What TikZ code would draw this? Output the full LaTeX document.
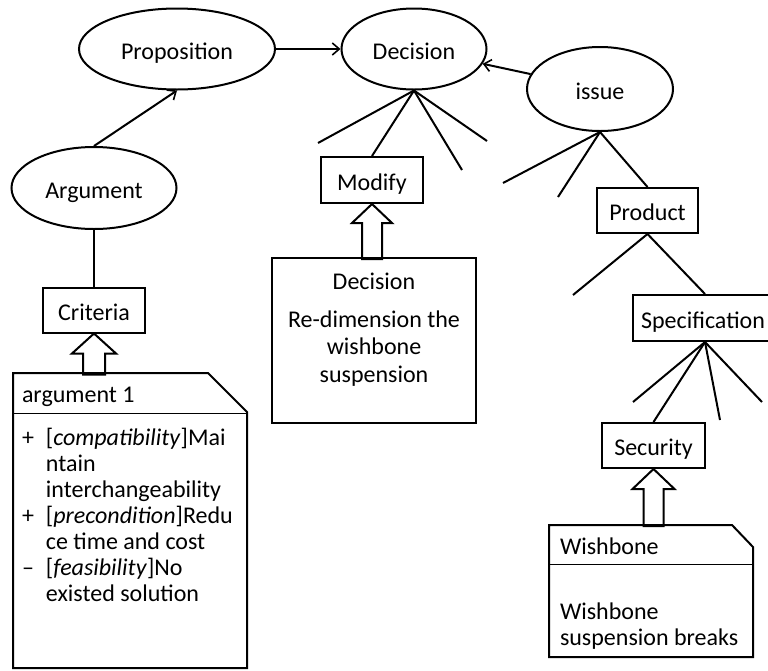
\documentclass[tikz,border=0pt]{standalone}
\usepackage{fontspec}
\setmainfont{Carlito}
\usetikzlibrary{shapes.geometric,arrows.meta}
\begin{document}
\begin{tikzpicture}[x=1pt,y=-1pt, line width=2pt,
  every node/.style={font=\fontsize{24}{27}\selectfont, inner sep=0pt},
  ell/.style={draw, ellipse, text height=22pt, text depth=2pt},
  box/.style={draw, rectangle, text height=22pt, text depth=2pt},
  arr/.style={-{Straight Barb[length=7pt,width=12pt,line width=1.6pt]}},
  thin sep/.style={line width=1pt},
]
\fill[white] (0,0) rectangle (768,670);
\useasboundingbox (0,0) rectangle (768,670);

% ellipses
\node[ell, minimum width=196pt, minimum height=81pt] (prop) at (177,49) {Proposition};
\node[ell, minimum width=145pt, minimum height=81pt] (dec) at (414,49) {Decision};
\node[ell, minimum width=146pt, minimum height=84pt] (issue) at (600,89) {issue};
\node[ell, minimum width=165pt, minimum height=82pt] (arg) at (94,188) {Argument};

% boxes
\node[box, minimum width=102pt, minimum height=45pt] (crit) at (94,310) {Criteria};
\node[box, minimum width=102pt, minimum height=46pt] (mod) at (372,180) {Modify};
\node[box, minimum width=101pt, minimum height=45pt] (prod) at (647.5,210.5) {Product};
\node[box, minimum width=144pt, minimum height=46pt] (spec) at (705,318) {};
\node[text height=22pt, text depth=2pt] (spectxt) at (703,318) {Specification};
\node[box, minimum width=103pt, minimum height=45pt] (sec) at (653.5,445.5) {Security};
\node[box, minimum width=204pt, minimum height=165pt] (decbox) at (374,340.5) {};
\node[anchor=base] (dectitle) at (374,289) {Decision};
\node[align=center, anchor=base, font=\fontsize{24}{27.5}\selectfont] (dectxt) at (374,382)
  {Re-dimension the\\wishbone\\suspension};

% arrows between ellipses
\draw[arr] (prop) -- (dec);
\draw[arr] (issue) -- (dec);
\draw[arr] (arg.north) -- (prop.south);
\draw (arg.south) -- (crit.north);

% fan from Decision
\coordinate (d1) at (318,143);
\coordinate (d3) at (462,170);
\coordinate (d4) at (487,141);
\draw (dec.south) -- (d1);
\draw (dec.south) -- (mod.north);
\draw (dec.south) -- (d3);
\draw (dec.south) -- (d4);

% fan from issue
\coordinate (i1) at (503,183);
\coordinate (i2) at (558,197);
\draw (issue.south) -- (i1);
\draw (issue.south) -- (i2);
\draw (issue.south) -- (prod.north);

% fan from Product
\coordinate (p1) at (573,295);
\draw (prod.south) -- (p1);
\draw (prod.south) -- (spec.north);

% fan from Specification
\coordinate (s1) at (633,402);
\coordinate (s3) at (720,420);
\coordinate (s4) at (762,402);
\draw (spec.south) -- (s1);
\draw (spec.south) -- (sec.north);
\draw (spec.south) -- (s3);
\draw (spec.south) -- (s4);

% hollow arrows
\draw[line join=miter] (crit.south) -- ++(22,20) -- ++(-11,0) -- ++(0,21) -- ++(-22,0) -- ++(0,-21) -- ++(-11,0) -- cycle;
\draw[line join=miter] (mod.south) -- ++(20,19) -- ++(-10,0) -- ++(0,36) -- ++(-20,0) -- ++(0,-36) -- ++(-10,0) -- cycle;
\draw[line join=miter] (sec.south) -- ++(21,20) -- ++(-11,0) -- ++(0,37) -- ++(-20,0) -- ++(0,-37) -- ++(-11,0) -- cycle;

% argument 1 note
\draw[line join=miter] (13,373) -- (208,373) -- (247,412) -- (247,668) -- (13,668) -- cycle;
\draw[thin sep] (13,413) -- (247,413);
\node[anchor=base west] (a1title) at (21,402) {argument 1};
\node[anchor=base west, font=\fontsize{24}{26}\selectfont] (a1list) at (21,445)
 {\begin{tabular}[t]{@{}l@{\hspace{12pt}}l@{}}
  + & [\textit{compatibility}]Mai\\
    & ntain\\
    & interchangeability\\
  + & [\textit{precondition}]Redu\\
    & ce time and cost\\
  -- & [\textit{feasibility}]No\\
    & existed solution
 \end{tabular}};

% Wishbone note
\draw[line join=miter] (549,525) -- (732,525) -- (753,547) -- (753,657) -- (549,657) -- cycle;
\draw[thin sep] (549,564) -- (753,564);
\node[anchor=base west] (wbtitle) at (559,554) {Wishbone};
\node[anchor=base west, align=left, font=\fontsize{24}{26}\selectfont] (wbtxt) at (559,645)
 {Wishbone\\suspension breaks};
\end{tikzpicture}
\end{document}
